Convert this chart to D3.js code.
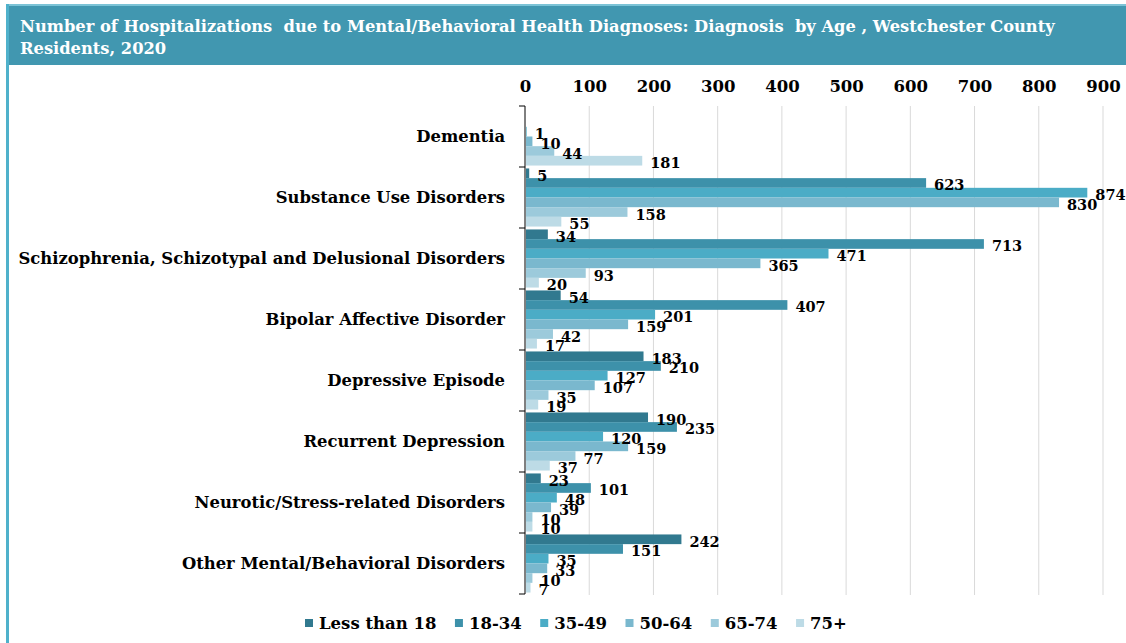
<!DOCTYPE html>
<html lang="en">
<head>
  <meta charset="UTF-8">
  <title>Hospitalizations by Diagnosis and Age</title>
  <script src="https://d3js.org/d3.v7.min.js"></script>
  <style>
    body { margin: 0; background: #fff; }
    svg text { font-family: "DejaVu Serif", "Liberation Serif", serif; font-weight: bold; }
    .grid line { stroke: #d9d9d9; stroke-width: 1; }
    .lbl { font-size: 14.5px; fill: #000; }
  </style>
</head>
<body>
  <svg id="chart"></svg>
  <script>
    // categories (top to bottom)
    const diagnoses = [
      "Dementia",
      "Substance Use Disorders",
      "Schizophrenia, Schizotypal and Delusional Disorders",
      "Bipolar Affective Disorder",
      "Depressive Episode",
      "Recurrent Depression",
      "Neurotic/Stress-related Disorders",
      "Other Mental/Behavioral Disorders"
    ];
    const ageGroups = ["Less than 18", "18-34", "35-49", "50-64", "65-74", "75+"];
    const colors = ["#31798f", "#3d91aa", "#4bacc6", "#7ab8ce", "#9ccadb", "#bddbe6"];

    // one array per age group, same order as diagnoses (null = no bar / no label)
    const lessThan18 = [null, 5, 34, 54, 183, 190, 23, 242];
    const age18to34  = [null, 623, 713, 407, 210, 235, 101, 151];
    const age35to49  = [1, 874, 471, 201, 127, 120, 48, 35];
    const age50to64  = [10, 830, 365, 159, 107, 159, 39, 33];
    const age65to74  = [44, 158, 93, 42, 35, 77, 10, 10];
    const age75plus  = [181, 55, 20, 17, 19, 37, 10, 7];
    const series = [lessThan18, age18to34, age35to49, age50to64, age65to74, age75plus];

    const xTicks = [0, 100, 200, 300, 400, 500, 600, 700, 800, 900];

    const width = 1126, height = 643;
    const svg = d3.select("#chart").attr("width", width).attr("height", height);

    // title banner + left frame line
    svg.append("rect").attr("x", 8).attr("y", 4).attr("width", width - 8).attr("height", 2)
      .attr("fill", "#7cc3d6");
    svg.append("rect").attr("x", 8).attr("y", 6).attr("width", width - 8).attr("height", 59)
      .attr("fill", "#4197b0");
    svg.append("rect").attr("x", 6).attr("y", 4).attr("width", 3).attr("height", height - 4)
      .attr("fill", "#4fb1cb");

    const title = svg.append("text")
      .attr("fill", "#fff").style("font-size", "16.3px").style("white-space", "pre");
    title.append("tspan").attr("x", 20).attr("y", 32)
      .text("Number of Hospitalizations  due to Mental/Behavioral Health Diagnoses: Diagnosis  by Age , Westchester County");
    title.append("tspan").attr("x", 20).attr("y", 54).text("Residents, 2020");

    // scales
    const x = d3.scaleLinear().domain([0, 900]).range([525, 1103]);
    const y = d3.scaleBand().domain(diagnoses).range([106, 594]);
    const yInner = d3.scaleBand().domain(d3.range(ageGroups.length))
      .range([0, y.bandwidth()]).paddingOuter(0.15);

    // gridlines
    svg.append("g").attr("class", "grid")
      .selectAll("line").data(xTicks.slice(1)).join("line")
      .attr("x1", d => x(d)).attr("x2", d => x(d))
      .attr("y1", 106).attr("y2", 595);

    // top axis labels
    const xAxis = d3.axisTop(x).tickValues(xTicks).tickSize(0).tickPadding(0);
    const gx = svg.append("g").attr("transform", "translate(0,92)").call(xAxis);
    gx.select(".domain").remove();
    gx.selectAll("text").style("font-size", "16.5px").attr("fill", "#000")
      .style("font-family", "\"DejaVu Serif\", serif").style("font-weight", "bold");

    // left axis with band-boundary ticks
    const yAxisG = svg.append("g");
    yAxisG.append("line").attr("x1", x(0)).attr("x2", x(0))
      .attr("y1", 106).attr("y2", 594).attr("stroke", "#000");
    const bounds = diagnoses.map(d => y(d)).concat([y.range()[1]]);
    yAxisG.selectAll(".tk").data(bounds).join("line").attr("class", "tk")
      .attr("x1", x(0) - 6).attr("x2", x(0)).attr("y1", d => d).attr("y2", d => d)
      .attr("stroke", "#000");
    yAxisG.selectAll(".cat").data(diagnoses).join("text").attr("class", "cat")
      .attr("x", 505).attr("y", d => y(d) + y.bandwidth() / 2)
      .attr("text-anchor", "end").attr("dominant-baseline", "central")
      .style("font-size", "16.4px").attr("fill", "#000").text(d => d);

    // bars
    const rows = [];
    diagnoses.forEach((dg, i) => {
      series.forEach((s, k) => rows.push({ dg, k, v: s[i] }));
    });
    const barRows = rows.filter(r => r.v !== null);

    svg.append("g").selectAll("rect").data(barRows).join("rect")
      .attr("x", x(0) + 1)
      .attr("y", d => y(d.dg) + yInner(d.k))
      .attr("width", d => Math.max(0, x(d.v) - x(0)))
      .attr("height", yInner.bandwidth())
      .attr("fill", d => colors[d.k]);

    // data labels
    svg.append("g").selectAll("text").data(barRows).join("text")
      .attr("class", "lbl")
      .attr("x", d => x(d.v) + 9)
      .attr("y", d => y(d.dg) + yInner(d.k) + yInner.bandwidth() / 2 + 2)
      .attr("dominant-baseline", "central")
      .text(d => d.v);

    // legend
    const legend = svg.append("g").attr("transform", "translate(305,623)");
    let lx = 0;
    ageGroups.forEach((g, k) => {
      const item = legend.append("g").attr("transform", `translate(${lx},0)`);
      item.append("rect").attr("x", 0).attr("y", -4).attr("width", 8).attr("height", 8)
        .attr("fill", colors[k]);
      const t = item.append("text").attr("x", 14).attr("y", 0)
        .attr("dominant-baseline", "central").style("font-size", "16.5px").text(g);
      lx += 14 + t.node().getComputedTextLength() + 18.5;
    });
  </script>
</body>
</html>
